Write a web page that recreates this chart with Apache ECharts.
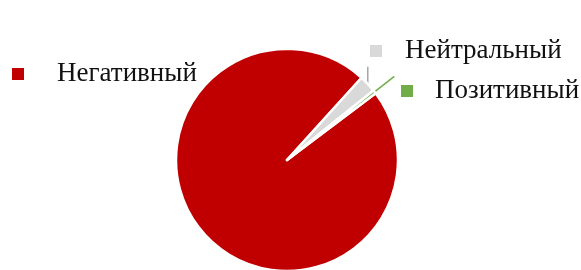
<!DOCTYPE html>
<html><head><meta charset="utf-8">
<script src="https://cdn.jsdelivr.net/npm/echarts@6/dist/echarts.min.js"></script>
<style>html,body{margin:0;padding:0;background:#fff}#c{width:581px;height:270px}</style>
</head><body><div id="c"></div>
<script>
const categories = ['Негативный', 'Нейтральный', 'Позитивный'];
const values = [97.0, 2.5, 0.5];
const colors = ['#C00000', '#D9D9D9', '#70AD47'];
const lineColors = ['#C00000', '#A6A6A6', '#70AD47'];

const labelPos = [[12, 74], [370, 51], [401, 91]];
const gaps = [33, 23, 22];

const rich = { t: { fontFamily: 'Liberation Serif', fontSize: 27, color: '#111' } };
categories.forEach((c, i) => {
  rich['sq' + i] = { width: 12, height: 12, backgroundColor: colors[i] };
  rich['g' + i] = { width: gaps[i] };
});

const chart = echarts.init(document.getElementById('c'));
chart.setOption({
  animation: false,
  series: [{
    type: 'pie',
    center: [287, 160],
    radius: 111,
    startAngle: 37,
    clockwise: true,
    avoidLabelOverlap: false,
    itemStyle: { borderColor: '#fff', borderWidth: 2.5 },
    label: {
      show: true,
      formatter: p => '{sq' + p.dataIndex + '|}{g' + p.dataIndex + '|}{t|' + p.name + '}',
      rich: rich
    },
    labelLine: { show: true, length: 10, length2: 10, lineStyle: { width: 1.5 } },
    labelLayout: p => {
      const i = p.dataIndex;
      const out = { x: labelPos[i][0], y: labelPos[i][1], align: 'left', verticalAlign: 'middle' };
      const pts = p.labelLinePoints;
      if (pts && pts.length) {
        const s = pts[0];
        if (i === 1) {
          out.labelLinePoints = [[s[0], s[1]], [s[0], s[1] - 17]];
        } else if (i === 2) {
          const dx = s[0] - 287, dy = s[1] - 160, L = Math.hypot(dx, dy);
          out.labelLinePoints = [[s[0], s[1]], [s[0] + dx / L * 25, s[1] + dy / L * 25]];
        }
      }
      return out;
    },
    data: categories.map((c, i) => ({
      name: c, value: values[i],
      itemStyle: { color: colors[i] },
      labelLine: { show: i !== 0, lineStyle: { color: lineColors[i] } }
    }))
  }]
});
</script></body></html>
